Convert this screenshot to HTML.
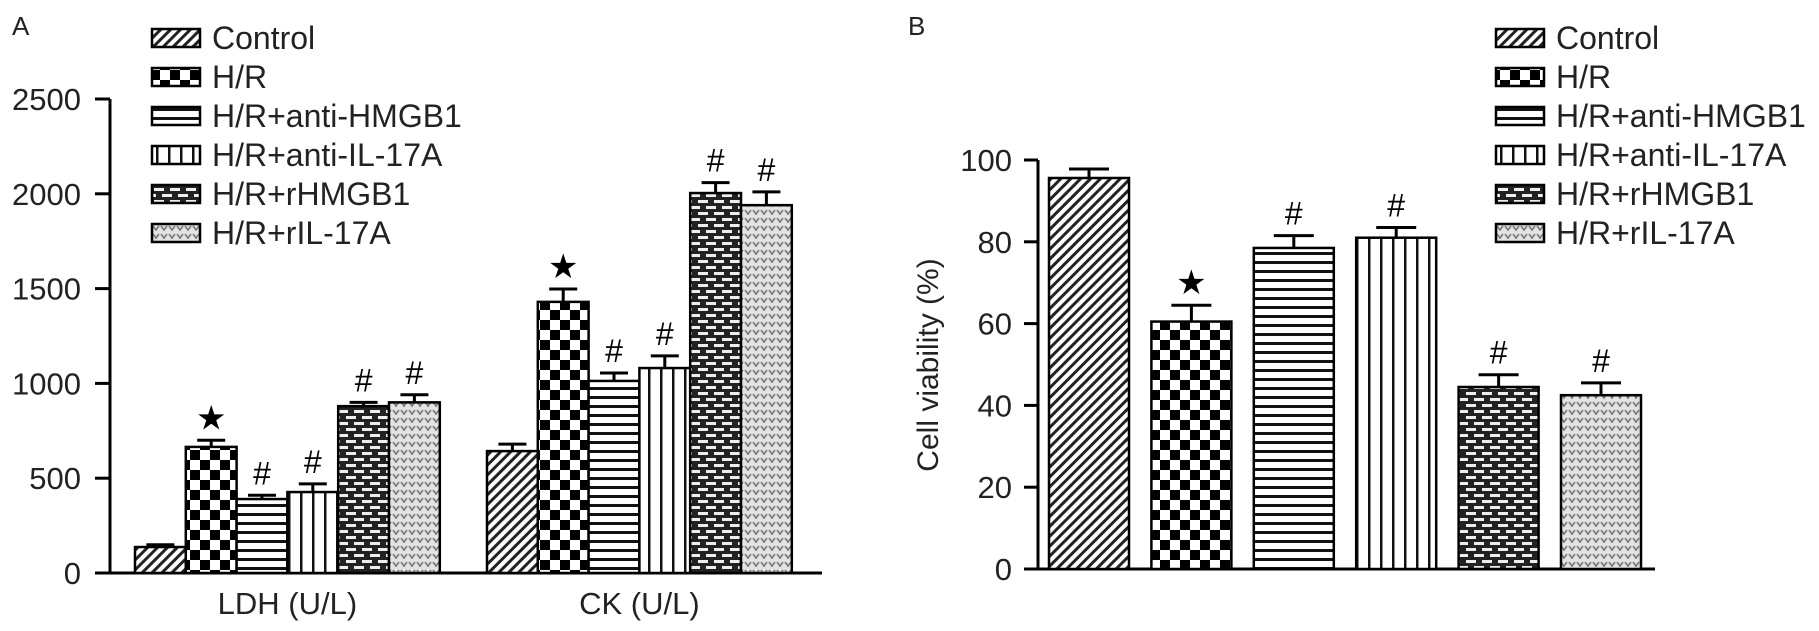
<!DOCTYPE html>
<html><head><meta charset="utf-8"><style>
html,body{margin:0;padding:0;background:#fff;}
svg{display:block;font-family:"Liberation Sans",Arial,sans-serif;}
</style></head><body>
<svg id="chart" width="1819" height="631" viewBox="0 0 1819 631" xmlns="http://www.w3.org/2000/svg">
<defs>
<pattern id="p0" width="7" height="7" patternUnits="userSpaceOnUse" patternTransform="rotate(45)"><rect width="7" height="7" fill="#fff"/><rect width="3" height="7" fill="#222"/></pattern>
<pattern id="p1" width="20" height="20" patternUnits="userSpaceOnUse"><rect width="20" height="20" fill="#fff"/><rect width="10" height="10" fill="#000"/><rect x="10" y="10" width="10" height="10" fill="#000"/></pattern>
<pattern id="p2" width="9" height="9" patternUnits="userSpaceOnUse"><rect width="9" height="9" fill="#fff"/><rect y="0" width="9" height="3" fill="#111"/></pattern>
<pattern id="p3" width="12" height="12" patternUnits="userSpaceOnUse"><rect width="12" height="12" fill="#fff"/><rect x="0" width="2.5" height="12" fill="#111"/></pattern>
<pattern id="p4" width="16" height="12" patternUnits="userSpaceOnUse"><rect width="16" height="12" fill="#222"/><rect x="2" y="2" width="10" height="3" fill="#eee"/><rect x="10" y="8" width="10" height="3" fill="#eee"/><rect x="-6" y="8" width="10" height="3" fill="#eee"/></pattern>
<pattern id="p5" width="8" height="8" patternUnits="userSpaceOnUse"><rect width="8" height="8" fill="#e4e4e4"/><path d="M1 2 L4 6 L7 2" stroke="#777" stroke-width="1.6" fill="none"/></pattern>
</defs>
<g id="panelA"></g>
<g id="panelB"></g>
</svg>
<script>
const groups = ["Control","H/R","H/R+anti-HMGB1","H/R+anti-IL-17A","H/R+rHMGB1","H/R+rIL-17A"];
const categoriesA = ["LDH (U/L)","CK (U/L)"];
const ldhValues = [137, 665, 390, 427, 880, 900];
const ldhErrors = [12, 35, 20, 43, 20, 40];
const ckValues = [643, 1430, 1013, 1081, 2004, 1940];
const ckErrors = [37, 68, 42, 64, 55, 70];
const ldhMarks = ["", "★", "#", "#", "#", "#"];
const ckMarks = ["", "★", "#", "#", "#", "#"];
const ticksA = [0, 500, 1000, 1500, 2000, 2500];
const viabilityValues = [95.6, 60.5, 78.5, 81, 44.5, 42.5];
const viabilityErrors = [2.2, 4, 3, 2.5, 3, 3];
const viabilityMarks = ["", "★", "#", "#", "#", "#"];
const ticksB = [0, 20, 40, 60, 80, 100];

const NS = "http://www.w3.org/2000/svg";
function mk(parent, tag, attrs, text){
  const e = document.createElementNS(NS, tag);
  for (const k in attrs) e.setAttribute(k, attrs[k]);
  if (text !== undefined) e.textContent = text;
  parent.appendChild(e); return e;
}
const fills = ["url(#p0)","url(#p1)","url(#p2)","url(#p3)","url(#p4)","url(#p5)"];

const A0 = 573, Apx = 94.8/500, Ax = 110;
const yA = v => A0 - v*Apx;
const gA = document.getElementById('panelA');
let t = mk(gA,'text',{x:12,y:35,'font-size':26,fill:'#222'});
t.textContent='A';


let l = mk(gA,'line',{x1:Ax,y1:yA(2500),x2:Ax,y2:A0,stroke:'#000','stroke-width':3});


l = mk(gA,'line',{x1:Ax,y1:A0,x2:822,y2:A0,stroke:'#000','stroke-width':3});


ticksA.forEach(v=>{
  const tk = mk(gA,'line',{x1:Ax-15,y1:yA(v),x2:Ax,y2:yA(v),stroke:'#000','stroke-width':3});
  
  
  const tl = mk(gA,'text',{x:Ax-29,y:yA(v)+11,'font-size':31,'text-anchor':'end',fill:'#222'}, String(v));
  
  
});
const groupStartA = [135, 487];
const bwA = 50.8;
function drawBars(g, start, bw, vals, errs, marks, yf, base, capw){
  vals.forEach((v,i)=>{
    const x = start + i*bw;
    const r = mk(g,'rect',{x:x,y:yf(v),width:bw,height:base-yf(v),fill:fills[i],stroke:'#000','stroke-width':2.5});
    
    
    const cx = x+bw/2, ye = yf(v+errs[i]);
    const e1 = mk(g,'path',{d:`M${cx} ${yf(v)} V${ye} M${cx-capw/2} ${ye} H${cx+capw/2}`,stroke:'#000','stroke-width':3,fill:'none'});
    
    
    if (marks[i]) {
      const m = mk(g,'text',{x:cx,y:ye-11,'font-size':marks[i]==='★'?34:32,'text-anchor':'middle',fill:'#000'}, marks[i]);
      
      
    }
  });
}
drawBars(gA, groupStartA[0], bwA, ldhValues, ldhErrors, ldhMarks, yA, A0, 28);
drawBars(gA, groupStartA[1], bwA, ckValues, ckErrors, ckMarks, yA, A0, 28);
categoriesA.forEach((c,i)=>{
  const cl = mk(gA,'text',{x:groupStartA[i]+3*bwA,y:614,'font-size':31,'text-anchor':'middle',fill:'#222'}, c);
  
  
});
function legend(g, sx, tx){
  groups.forEach((name,i)=>{
    const cy = 38 + i*39;
    const sw = mk(g,'rect',{x:sx,y:cy-9,width:48,height:18,fill:fills[i],stroke:'#000','stroke-width':2.5});
    
    
    const lt = mk(g,'text',{x:tx,y:cy+11,'font-size':32,fill:'#222'}, name);
    
    
  });
}
legend(gA, 152, 212);

const B0 = 569, Bpx = 4.09, Bx = 1038;
const yB = v => B0 - v*Bpx;
const gB = document.getElementById('panelB');
t = mk(gB,'text',{x:908,y:35,'font-size':26,fill:'#222'});
t.textContent='B';


l = mk(gB,'line',{x1:Bx,y1:yB(100),x2:Bx,y2:B0,stroke:'#000','stroke-width':3});


l = mk(gB,'line',{x1:Bx,y1:B0,x2:1655,y2:B0,stroke:'#000','stroke-width':3});


ticksB.forEach(v=>{
  const tk = mk(gB,'line',{x1:Bx-14,y1:yB(v),x2:Bx,y2:yB(v),stroke:'#000','stroke-width':3});
  
  
  const tl = mk(gB,'text',{x:Bx-26,y:yB(v)+11,'font-size':31,'text-anchor':'end',fill:'#222'}, String(v));
  
  
});
const yt = mk(gB,'text',{x:0,y:0,'font-size':30,'text-anchor':'middle',fill:'#222',transform:'translate(938,365) rotate(-90)'}, 'Cell viability (%)');


viabilityValues.forEach((v,i)=>{
  const x = 1049 + i*102.4, bw = 80;
  const r = mk(gB,'rect',{x:x,y:yB(v),width:bw,height:B0-yB(v),fill:fills[i],stroke:'#000','stroke-width':2.5});
  
  
  const cx = x+bw/2, ye = yB(v+viabilityErrors[i]);
  const e1 = mk(gB,'path',{d:`M${cx} ${yB(v)} V${ye} M${cx-20} ${ye} H${cx+20}`,stroke:'#000','stroke-width':3,fill:'none'});
  
  
  if (viabilityMarks[i]) {
    const m = mk(gB,'text',{x:cx,y:ye-11,'font-size':viabilityMarks[i]==='★'?34:32,'text-anchor':'middle',fill:'#000'}, viabilityMarks[i]);
    
    
  }
});
legend(gB, 1496, 1556);
</script>
</body></html>
